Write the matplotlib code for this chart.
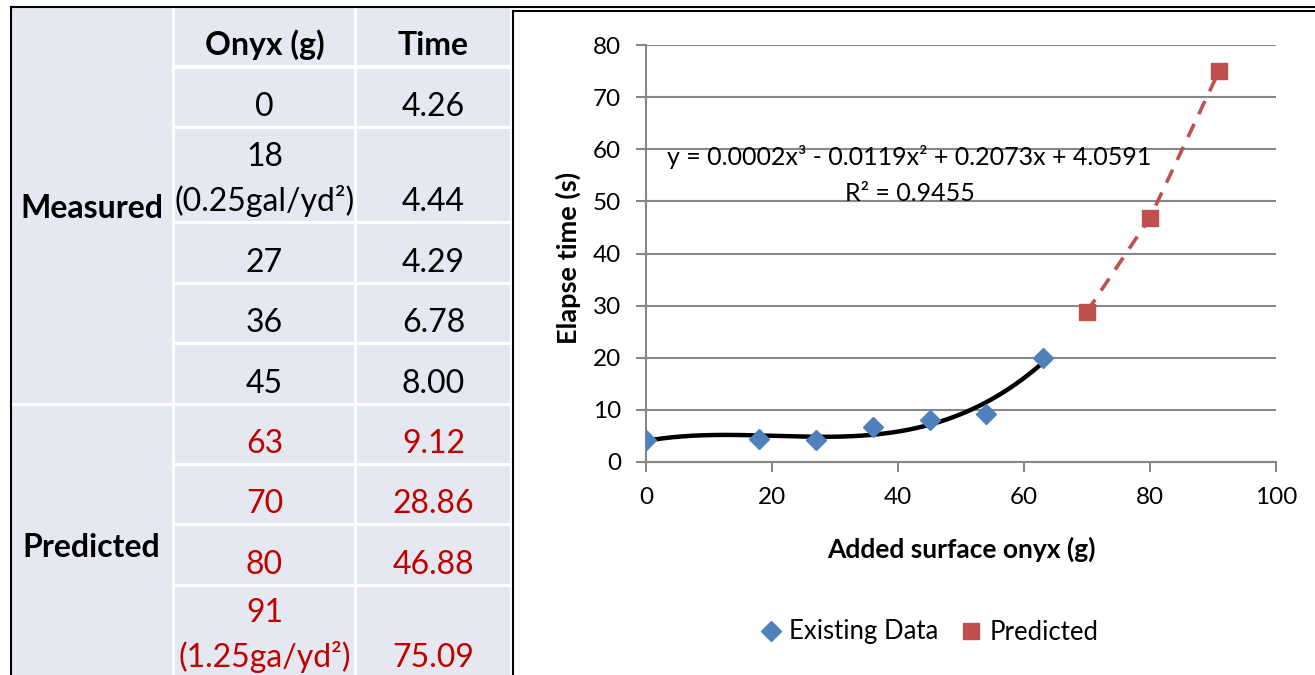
import matplotlib.pyplot as plt
from matplotlib.patches import Rectangle
import numpy as np

plt.rcParams['font.family'] = ['Lato', 'DejaVu Sans']

# table contents
header = ["Onyx (g)", "Time"]
measured_onyx = ["0", "18\n(0.25gal/yd²)", "27", "36", "45"]
measured_time = ["4.26", "4.44", "4.29", "6.78", "8.00"]
predicted_onyx = ["63", "70", "80", "91\n(1.25ga/yd²)"]
predicted_time = ["9.12", "28.86", "46.88", "75.09"]

# chart series
existing_x = [0, 18, 27, 36, 45, 54, 63]
existing_y = [4.26, 4.44, 4.29, 6.78, 8.00, 9.12, 20.0]
pred_x = [70, 80, 91]
pred_y = [28.86, 46.88, 75.09]

equation = "y = 0.0002x³ - 0.0119x² + 0.2073x + 4.0591"
r2_text = "R² = 0.9455"

cell_bg = '#E5E8F1'
red_txt = '#C00000'
grid_c = '#878787'

fig = plt.figure(figsize=(13.15, 6.75), dpi=100)

# ---- table drawn in pixel coordinates on an overlay axes
tab = fig.add_axes([0, 0, 1, 1])
tab.set_xlim(0, 1315)
tab.set_ylim(675, 0)
tab.axis('off')

cols = [(11, 172), (175, 354), (357, 510)]
header_row = (8, 65)
meas_rows = [(69, 126), (129, 221), (224, 282), (285, 342), (345, 403)]
pred_rows = [(406, 463), (466, 523), (526, 584), (587, 680)]
fs = 23


def cell(x0, x1, y0, y1):
    tab.add_patch(Rectangle((x0, y0), x1 - x0, y1 - y0, color=cell_bg, lw=0))


def cell_text(x0, x1, bottom, txt, color='black', weight='normal'):
    lines = txt.split("\n")
    for k, ln in enumerate(lines):
        base = bottom - 10 - 45 * (len(lines) - 1 - k)
        tab.text((x0 + x1) / 2, base, ln, ha='center', va='baseline',
                 fontsize=fs, color=color, fontweight=weight)


# first column (group labels)
cell(cols[0][0], cols[0][1], 8, 403)
cell(cols[0][0], cols[0][1], 406, 680)
tab.text(sum(cols[0]) / 2, 218, "Measured", ha='center', va='baseline',
         fontsize=fs, fontweight='bold')
tab.text(sum(cols[0]) / 2, 557, "Predicted", ha='center', va='baseline',
         fontsize=fs, fontweight='bold')

for j in range(2):
    c = cols[j + 1]
    cell(c[0], c[1], *header_row)
    cell_text(c[0], c[1], header_row[1], header[j], weight='bold')

for i, (y0, y1) in enumerate(meas_rows):
    for j, vals in enumerate([measured_onyx, measured_time]):
        c = cols[j + 1]
        cell(c[0], c[1], y0, y1)
        cell_text(c[0], c[1], y1, vals[i])

for i, (y0, y1) in enumerate(pred_rows):
    bottom = min(y1, 677)
    for j, vals in enumerate([predicted_onyx, predicted_time]):
        c = cols[j + 1]
        cell(c[0], c[1], y0, y1)
        cell_text(c[0], c[1], bottom, vals[i], color=red_txt)

# borders
tab.plot([11, 1315], [7, 7], color='black', lw=1.5)
tab.plot([11, 11], [7, 675], color='black', lw=1.5)
tab.plot([513, 1315], [10.5, 10.5], color='black', lw=1.5)
tab.plot([513, 513], [10.5, 675], color='black', lw=1.5)

# ---- chart
ax = fig.add_axes([646 / 1315, 1 - 462 / 675, 630 / 1315, 417 / 675])
ax.set_xlim(0, 100)
ax.set_ylim(0, 80)
ax.set_xticks(np.arange(0, 101, 20))
ax.set_yticks(np.arange(0, 81, 10))
ax.yaxis.grid(True, color=grid_c, lw=1.5)
ax.set_axisbelow(True)
for s in ['top', 'right']:
    ax.spines[s].set_visible(False)
for s in ['left', 'bottom']:
    ax.spines[s].set_color(grid_c)
    ax.spines[s].set_linewidth(1.5)
ax.tick_params(axis='both', direction='out', length=7, width=1.5, color=grid_c,
               labelsize=17.5, pad=11)

coef = np.polyfit(existing_x, existing_y, 3)
xs = np.linspace(min(existing_x), max(existing_x), 200)
ax.plot(xs, np.polyval(coef, xs), color='black', lw=3.2, zorder=3)
ax.plot(pred_x, pred_y, color='#C0504D', lw=2.6, ls=(0, (4, 3)), zorder=3)

ax.plot(existing_x, existing_y, ls='none', marker='D', ms=10, color='#4F81BD',
        label='Existing Data', zorder=4)
ax.plot(pred_x, pred_y, ls='none', marker='s', ms=12, color='#C0504D',
        label='Predicted', zorder=4)

ax.text(41.8, 58.5, equation, ha='center', va='center', fontsize=18)
ax.text(41.9, 51.6, r2_text, ha='center', va='center', fontsize=18)

ax.set_xlabel("Added surface onyx (g)", fontsize=19, fontweight='bold', va='center')
ax.xaxis.set_label_coords(0.5, -87 / 417)
ax.set_ylabel("Elapse time (s)", fontsize=19.5, fontweight='bold', va='center')
ax.yaxis.set_label_coords(-78 / 630, 0.49)

fig.legend(loc='center', bbox_to_anchor=(928 / 1315, 1 - 632 / 675), ncol=2,
           frameon=False, fontsize=18.5, handletextpad=0.2, columnspacing=0.8,
           handlelength=1.0)

fig.savefig("out.png", dpi=100)
